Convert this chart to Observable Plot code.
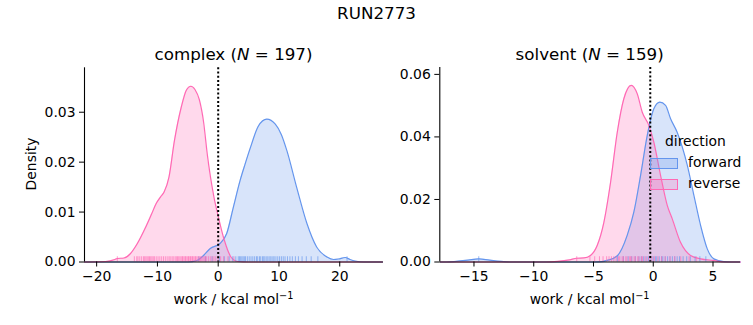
<!DOCTYPE html>
<html>
<head>
<meta charset="utf-8">
<script src="https://cdn.jsdelivr.net/npm/d3@7"></script>
<script src="https://cdn.jsdelivr.net/npm/@observablehq/plot@0.6"></script>
<style>
  html, body { margin: 0; padding: 0; background: #fff; }
  #chart { position: relative; width: 753px; height: 325px; font-family: "DejaVu Sans", sans-serif; color: #000; overflow: hidden; }
  .abs { position: absolute; white-space: nowrap; }
  .title { font-size: 16.7px; transform: translate(-50%, -50%); }
  .lab { font-size: 13.9px; transform: translate(-50%, -50%); }
  .leg { font-size: 13.9px; }
  .patch { position: absolute; width: 26px; height: 9px; }
</style>
</head>
<body>
<div id="chart"></div>
<script>
// ---------------- data ----------------
const panels = ["complex", "solvent"];
const panelN = [197, 159];
const directions = ["forward", "reverse"];
const colors = ["#6495ED", "#FF69B4"];

// complex, reverse: KDE curve
const cRevX = [-22, -18.5, -17, -16.6, -15.5, -14.5, -13.3, -12, -11, -10.2, -9.5, -8.9, -8.1, -7.2, -6.1, -5.2, -4.5, -3.8, -3.1, -2.4, -1.8, -0.7, 0, 1, 2.1, 3.2, 5, 27];
const cRevD = [0, 0.0001, 0.0005, 0.0007, 0.0008, 0.0016, 0.0037, 0.0068, 0.0095, 0.0117, 0.013, 0.014, 0.017, 0.0243, 0.0309, 0.0345, 0.0352, 0.0345, 0.0325, 0.028, 0.0216, 0.013, 0.0092, 0.0044, 0.001, 0.0001, 0, 0];
// complex, forward: KDE curve
const cFwdX = [-22, -5, -3.5, -2.5, -1.3, 0.3, 1.4, 2.5, 3.6, 4.4, 5.3, 6.6, 8, 9.4, 10.4, 11.3, 12.9, 14.6, 16.2, 17.9, 19, 19.8, 20.9, 21.7, 22.5, 24, 27];
const cFwdD = [0, 0, 0.0003, 0.0012, 0.0027, 0.0037, 0.0057, 0.011, 0.0163, 0.0195, 0.0229, 0.0272, 0.0286, 0.0276, 0.0255, 0.0223, 0.015, 0.0077, 0.003, 0.001, 0.0005, 0.0006, 0.0009, 0.0005, 0.0002, 0, 0];
// solvent, reverse: KDE curve
const sRevX = [-17.8, -9, -8, -7, -6.4, -5.8, -5.25, -4.69, -4.13, -3.57, -3.01, -2.46, -1.84, -1.34, -0.92, -0.37, 0.05, 0.61, 1.17, 1.59, 2.28, 3.12, 3.96, 5, 6, 7.3];
const sRevD = [0, 0, 0.0002, 0.0007, 0.0012, 0.0013, 0.0021, 0.0053, 0.0127, 0.0255, 0.0415, 0.0522, 0.0565, 0.0538, 0.0479, 0.0437, 0.0383, 0.0277, 0.0181, 0.0138, 0.0063, 0.0021, 0.001, 0.0005, 0, 0];
// solvent, forward: KDE curve
const sFwdX = [-17.8, -17.3, -16.5, -15.5, -14.6, -13.7, -12.7, -12, -5, -4.3, -3.85, -3, -2.18, -1.62, -1.06, -0.5, 0.05, 0.55, 1.03, 1.45, 2, 2.85, 3.4, 3.96, 4.52, 5.07, 5.9, 6.5, 7.3];
const sFwdD = [0, 0, 0.0002, 0.0006, 0.001, 0.0006, 0.0002, 0, 0, 0.0001, 0.0005, 0.002, 0.0085, 0.016, 0.0277, 0.0405, 0.049, 0.0511, 0.0501, 0.0458, 0.0415, 0.0309, 0.0213, 0.0117, 0.0042, 0.001, 0.0001, 0, 0];

// rug samples (estimated work values)
const cRevRug = [-16.6, -13.8, -13.4, -13.2, -12.9, -12.6, -12.3, -12.1, -11.9, -11.7, -11.5, -11.3, -11.1, -10.9, -10.7, -10.5, -10.2, -9.9, -9.6, -9.3, -9.0, -8.7, -8.4, -8.1, -7.9, -7.6, -7.4, -7.1, -6.9, -6.7, -6.5, -6.3, -6.1, -5.9, -5.8, -5.6, -5.4, -5.3, -5.1, -4.9, -4.8, -4.6, -4.5, -4.3, -4.2, -4.0, -3.8, -3.7, -3.5, -3.3, -3.1, -2.9, -2.7, -2.5, -2.3, -2.1, -1.9, -1.6, -1.3, -1.0, -0.7, -0.4, 0.0, 0.4, 0.9, 1.6, 2.6];
const cFwdRug = [-3.2, -2.1, -1.0, 0.2, 1.0, 1.8, 2.4, 2.9, 3.3, 3.5, 3.7, 3.9, 4.1, 4.3, 4.5, 4.8, 5.1, 5.4, 5.7, 6.0, 6.3, 6.5, 6.8, 7.0, 7.3, 7.5, 7.7, 8.0, 8.2, 8.5, 8.7, 9.0, 9.2, 9.5, 9.8, 10.1, 10.4, 10.7, 11.0, 11.4, 11.8, 12.2, 12.7, 13.2, 13.8, 14.5, 15.3, 16.4, 21.2];
const sRevRug = [-6.4, -5.3, -4.9, -4.5, -4.2, -3.9, -3.7, -3.5, -3.3, -3.1, -2.9, -2.8, -2.6, -2.5, -2.3, -2.2, -2.0, -1.9, -1.8, -1.6, -1.5, -1.3, -1.2, -1.0, -0.9, -0.7, -0.5, -0.3, -0.1, 0.1, 0.4, 0.7, 1.0, 1.4, 1.8, 2.3, 3.0, 3.6];
const sFwdRug = [-14.6, -3.0, -2.5, -2.1, -1.8, -1.5, -1.2, -1.0, -0.8, -0.6, -0.4, -0.2, 0.0, 0.2, 0.3, 0.5, 0.7, 0.8, 1.0, 1.2, 1.4, 1.6, 1.8, 2.0, 2.2, 2.5, 2.8, 3.1, 3.5, 3.9, 4.4];

// reference lines (dotted)
const refLine = [0, -0.25];

// axis ticks
const xTicks = [[-20, -10, 0, 10, 20], [-15, -10, -5, 0, 5]];
const yTicks = [[0, 0.01, 0.02, 0.03], [0, 0.02, 0.04, 0.06]];
const xDomains = [[-22.0, 27.2], [-17.86, 7.3]];
const yDomains = [[0, 0.0389], [0, 0.0622]];

// ---------------- build ----------------
const curves = [
  [{x: cFwdX, d: cFwdD, rug: cFwdRug}, {x: cRevX, d: cRevD, rug: cRevRug}],
  [{x: sFwdX, d: sFwdD, rug: sFwdRug}, {x: sRevX, d: sRevD, rug: sRevRug}]
];

const chart = document.getElementById("chart");
const geom = [
  {left: 0, width: 390, mL: 84, mR: 7, mT: 7.3},
  {left: 390, width: 363, mL: 49.3, mR: 13, mT: 7}
];
const svgTop = 60, svgH = 265, frameBottom = 261.5;

panels.forEach((p, i) => {
  const g = geom[i];
  const ymax = yDomains[i][1];
  const marks = [];
  directions.forEach((dir, j) => {
    const c = curves[i][j];
    const pts = c.x.map((x, k) => ({x, d: c.d[k]}));
    marks.push(Plot.areaY(pts, {x: "x", y: "d", fill: colors[j], fillOpacity: 0.25, curve: "monotone-x"}));
  });
  directions.forEach((dir, j) => {
    const c = curves[i][j];
    const pts = c.x.map((x, k) => ({x, d: c.d[k]}));
    marks.push(Plot.line(pts, {x: "x", y: "d", stroke: colors[j], strokeWidth: 1.2, curve: "monotone-x"}));
  });
  directions.forEach((dir, j) => {
    const c = curves[i][j];
    marks.push(Plot.ruleX(c.rug, {x: d => d, y1: 0, y2: ymax * 0.027, stroke: colors[j], strokeOpacity: 0.65, strokeWidth: 1}));
  });
  marks.push(Plot.ruleX([refLine[i]], {stroke: "black", strokeWidth: 2, strokeDasharray: "2,2.2"}));
  marks.push(Plot.ruleY([0], {stroke: "black", strokeWidth: 1.1}));
  marks.push(Plot.ruleX([xDomains[i][0]], {stroke: "black", strokeWidth: 1.1}));
  marks.push(Plot.axisX({ticks: xTicks[i], tickSize: 5, tickPadding: 4, label: null, tickFormat: d3.format("d")}));
  marks.push(Plot.axisY({ticks: yTicks[i], tickSize: 5, tickPadding: 4, label: null, tickFormat: d3.format(".2f")}));

  const svg = Plot.plot({
    width: g.width,
    height: svgH,
    marginLeft: g.mL,
    marginRight: g.mR,
    marginTop: g.mT,
    marginBottom: svgTop + svgH - frameBottom,
    x: {domain: xDomains[i]},
    y: {domain: yDomains[i]},
    style: {fontSize: "13.9px", fontFamily: "DejaVu Sans", background: "transparent", overflow: "visible"},
    marks
  });
  svg.style.position = "absolute";
  svg.style.left = g.left + "px";
  svg.style.top = svgTop + "px";
  chart.appendChild(svg);

  const cx = g.left + g.mL + (g.width - g.mL - g.mR) / 2;
  const t = document.createElement("div");
  t.className = "abs title";
  t.style.left = cx + "px";
  t.style.top = "54px";
  t.innerHTML = `${p} (<i>N</i> = ${panelN[i]})`;
  chart.appendChild(t);

  const xl = document.createElement("div");
  xl.className = "abs lab";
  xl.style.left = cx + "px";
  xl.style.top = "299px";
  xl.innerHTML = `work / kcal mol<sup style="font-size:70%;vertical-align:0.55em;line-height:0">−1</sup>`;
  chart.appendChild(xl);
});

// suptitle
const st = document.createElement("div");
st.className = "abs title";
st.style.left = "376.5px";
st.style.top = "13px";
st.textContent = "RUN2773";
chart.appendChild(st);

// y label
const yl = document.createElement("div");
yl.className = "abs lab";
yl.style.left = "31px";
yl.style.top = "164px";
yl.style.transform = "translate(-50%, -50%) rotate(-90deg)";
yl.textContent = "Density";
chart.appendChild(yl);

// legend
const legTitle = document.createElement("div");
legTitle.className = "abs leg";
legTitle.style.left = "665px";
legTitle.style.top = "133px";
legTitle.textContent = "direction";
chart.appendChild(legTitle);
directions.forEach((dir, j) => {
  const y = 157.5 + j * 21;
  const patch = document.createElement("div");
  patch.className = "patch";
  patch.style.left = "650px";
  patch.style.top = y + "px";
  patch.style.background = d3.color(colors[j]).copy({opacity: 0.25}).toString();
  patch.style.border = "1px solid " + colors[j];
  chart.appendChild(patch);
  const lt = document.createElement("div");
  lt.className = "abs leg";
  lt.style.left = "688px";
  lt.style.top = (y - 3.5) + "px";
  lt.textContent = dir;
  chart.appendChild(lt);
});
</script>
</body>
</html>
